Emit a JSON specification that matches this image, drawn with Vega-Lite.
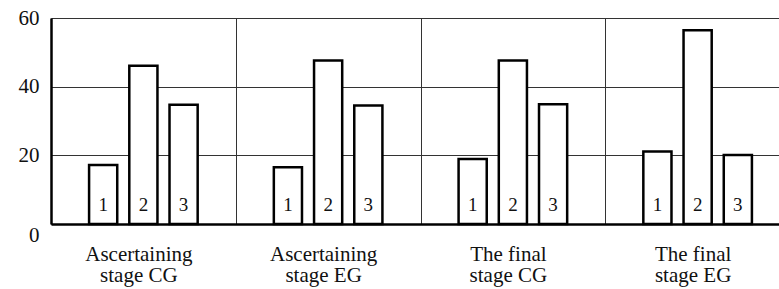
{
  "$schema": "https://vega.github.io/schema/vega-lite/v6.json",
  "width": 728,
  "height": 206,
  "autosize": {"type": "none"},
  "padding": {"left": 51, "top": 18, "right": 0, "bottom": 65},
  "background": "white",
  "config": {
    "view": {"stroke": null},
    "font": "Liberation Serif"
  },
  "data": {
    "values": [
      {"stage": "Ascertaining|stage CG", "bar": "1", "value": 17.2},
      {"stage": "Ascertaining|stage CG", "bar": "2", "value": 46.1},
      {"stage": "Ascertaining|stage CG", "bar": "3", "value": 34.7},
      {"stage": "Ascertaining|stage EG", "bar": "1", "value": 16.5},
      {"stage": "Ascertaining|stage EG", "bar": "2", "value": 47.6},
      {"stage": "Ascertaining|stage EG", "bar": "3", "value": 34.5},
      {"stage": "The final|stage CG", "bar": "1", "value": 18.9},
      {"stage": "The final|stage CG", "bar": "2", "value": 47.6},
      {"stage": "The final|stage CG", "bar": "3", "value": 34.9},
      {"stage": "The final|stage EG", "bar": "1", "value": 21.1},
      {"stage": "The final|stage EG", "bar": "2", "value": 56.4},
      {"stage": "The final|stage EG", "bar": "3", "value": 20.1}
    ]
  },
  "encoding": {
    "x": {
      "field": "stage",
      "type": "nominal",
      "sort": null,
      "scale": {"range": [0, 739], "paddingInner": 0, "paddingOuter": 0},
      "axis": {
        "title": null,
        "labelAngle": 0,
        "labelExpr": "split(datum.label, '|')",
        "labelFont": "Liberation Serif",
        "labelFontSize": 21,
        "labelLineHeight": 21.5,
        "labelColor": "#111",
        "labelBaseline": "top",
        "labelPadding": 19,
        "labelOffset": -5,
        "ticks": false,
        "tickBand": "extent",
        "grid": true,
        "gridColor": "#333",
        "gridWidth": 1,
        "domain": true,
        "domainColor": "#000",
        "domainWidth": 2.5
      }
    },
    "xOffset": {
      "field": "bar",
      "type": "nominal",
      "scale": {"paddingInner": 0.3, "paddingOuter": 0.947}
    }
  },
  "layer": [
    {
      "mark": {"type": "bar", "fill": "white", "stroke": "black", "strokeWidth": 2.5},
      "encoding": {
        "y": {
          "field": "value",
          "type": "quantitative",
          "scale": {"domain": [0, 60], "nice": false},
          "axis": {
            "title": null,
            "values": [0, 20, 40, 60],
            "labelFont": "Liberation Serif",
            "labelFontSize": 21,
            "labelColor": "#111",
            "labelPadding": 12,
            "labelBaseline": {"condition": {"test": "datum.value == 0", "value": "top"}, "value": "middle"},
            "ticks": false,
            "grid": true,
            "gridColor": "#333",
            "gridWidth": 1,
            "domain": true,
            "domainColor": "#000",
            "domainWidth": 2.5
          }
        }
      }
    },
    {
      "mark": {"type": "text", "font": "Liberation Serif", "fontSize": 19, "color": "#111", "baseline": "middle", "dy": -19},
      "encoding": {
        "y": {"datum": 0, "type": "quantitative"},
        "text": {"field": "bar"}
      }
    }
  ]
}
